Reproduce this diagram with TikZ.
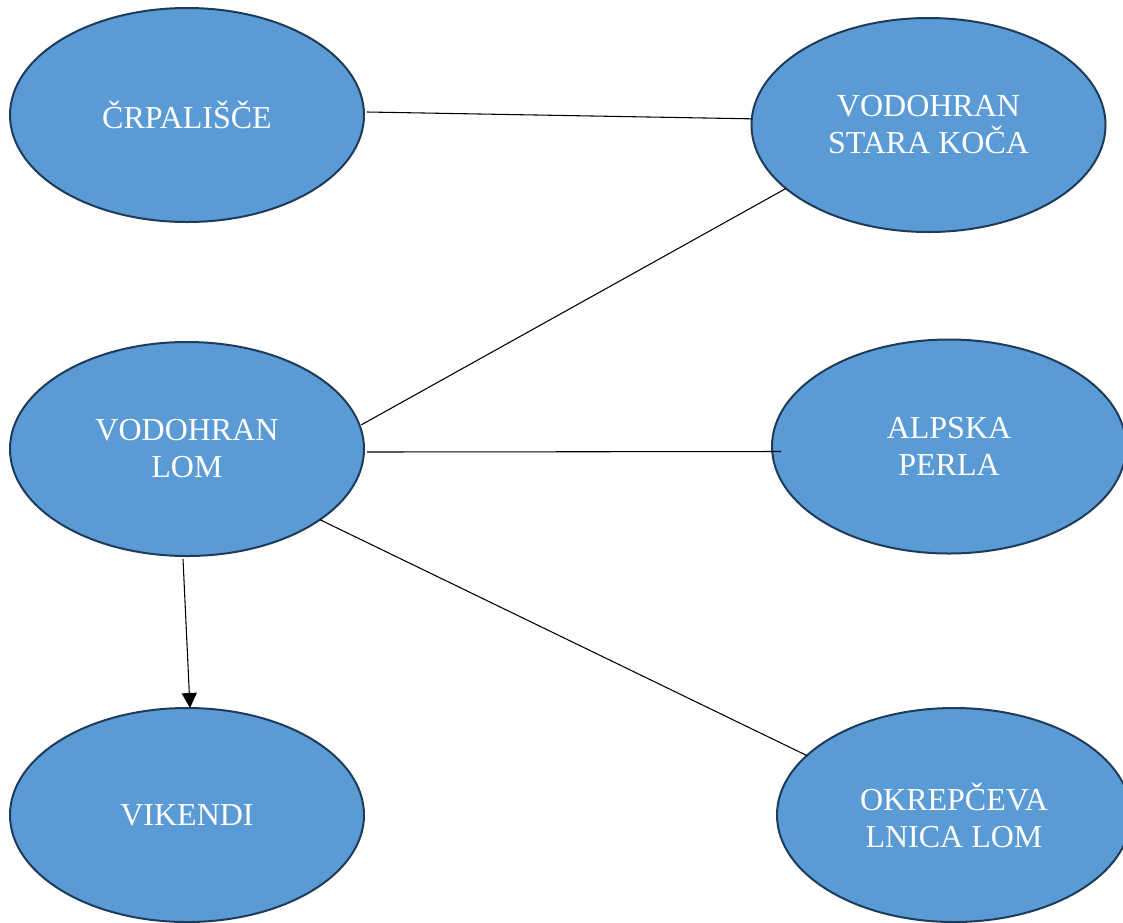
\documentclass[tikz,border=0pt]{standalone}
\usepackage{fontspec}
\setmainfont{Liberation Serif}
\usetikzlibrary{shapes.geometric,arrows.meta,calc}
\definecolor{fillblue}{HTML}{5B9BD5}
\definecolor{edgeblue}{HTML}{1F3B5A}
\tikzset{
  bubble/.style={ellipse, draw=edgeblue, fill=fillblue, line width=1.5pt,
    minimum width=265.5pt, minimum height=160.5pt, inner sep=0pt, outer sep=0pt,
    text=white, align=center, font=\fontsize{24}{27.75}\selectfont},
  link/.style={draw=black, line width=0.8pt},
  arrowlink/.style={link, -{Triangle[length=11.25pt,width=11.25pt]}}
}
\begin{document}
\begin{tikzpicture}[x=0.75pt,y=-0.75pt]
\useasboundingbox (0,0) rectangle (1123,922);
\clip (0,0) rectangle (1123,922);
\node[bubble] (crp) at (187,115) {ČRPALIŠČE};
\node[bubble] (sk)  at (928.5,125) {VODOHRAN\\STARA KOČA};
\node[bubble] (lom) at (187,449) {VODOHRAN\\LOM};
\node[bubble] (ap)  at (949,446.5) {ALPSKA\\PERLA};
\node[bubble] (vik) at (187,815) {VIKENDI};
\node[bubble] (okr) at (954,815) {OKREPČEVA\\LNICA LOM};
\draw[link] ($(crp.east)+(3,-3)$) -- (sk.178.4);
\draw[link] ($(lom.8.5)+(2,0)$) -- (sk.204.5);
\draw[link] ($(lom.east)+(3,3)$) -- ($(ap.west)+(9,5)$);
\draw[link] (lom.332.8) -- (okr.158.6);
\draw[arrowlink] ($(lom.south)+(-4,3)$) -- ($(vik.north)+(3,0)$);
\end{tikzpicture}
\end{document}
